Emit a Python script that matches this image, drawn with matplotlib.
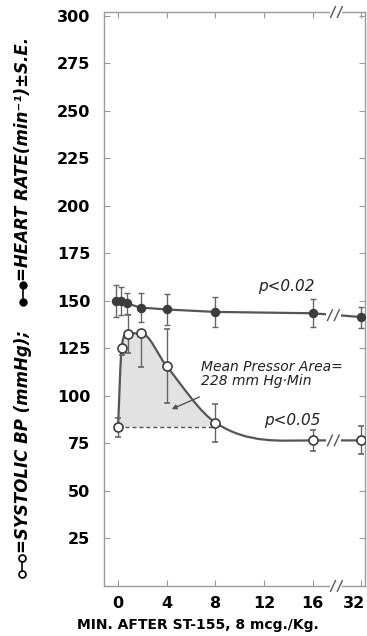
import numpy as np
import matplotlib
matplotlib.use("Agg")
import matplotlib.pyplot as plt
from matplotlib.path import Path
from matplotlib.patches import PathPatch, Rectangle
from matplotlib.lines import Line2D
from matplotlib.transforms import ScaledTranslation

# ---------------------------------------------------
# DATA
# ---------------------------------------------------
bp_time = [0, 0.3, 0.85, 1.9, 4, 8, 16, 32]
bp = [83.5, 125.3, 132.6, 133.0, 115.6, 86.0, 76.6, 76.6]
bp_err_lo = [5, 4, 10, 18, 19.5, 10, 5.7, 7.4]
bp_err_hi = [5, 0, 10, 0, 19.5, 10, 5.7, 7.4]

hr_time = [-0.2, 0.25, 0.7, 1.85, 4, 8, 16, 32]
hr = [150.0, 150.0, 148.7, 146.5, 145.5, 144.2, 143.5, 141.5]
hr_err = [8.5, 7.5, 5.5, 7.4, 8.0, 7.8, 7.4, 5.5]

x_ticks = [0, 4, 8, 12, 16, 32]
y_ticks = [25, 50, 75, 100, 125, 150, 175, 200, 225, 250, 275, 300]

dark = "#3c3c3c"
line_c = "#555555"
spine_c = "#9a9a9a"
W, H = 367, 636


def pos(t):
    # broken time axis: everything after 16 min is squeezed 4x
    t = np.asarray(t, dtype=float)
    return np.where(t <= 16, t, 16 + (t - 16) / 4.0)


def smooth_slopes(x, y):
    # averaged neighbour slopes, flat at turning points, limited
    h = np.diff(x)
    d = np.diff(y) / h
    m = np.zeros(len(x))
    m[0] = d[0]
    m[-1] = d[-1]
    for k in range(1, len(x) - 1):
        if d[k - 1] * d[k] > 0:
            c = (d[k - 1] + d[k]) / 2
            lim = 4 * min(abs(d[k - 1]), abs(d[k]))
            m[k] = np.sign(c) * min(abs(c), lim)
    return m


def smooth_path(x, y):
    m = smooth_slopes(x, y)
    verts = [(x[0], y[0])]
    codes = [Path.MOVETO]
    for i in range(len(x) - 1):
        h = x[i + 1] - x[i]
        verts += [(x[i] + h / 3, y[i] + m[i] * h / 3),
                  (x[i + 1] - h / 3, y[i + 1] - m[i + 1] * h / 3),
                  (x[i + 1], y[i + 1])]
        codes += [Path.CURVE4] * 3
    return verts, codes


def slashes(ax, xc, yc, clip=True):
    for dx in (-0.28, 0.28):
        ax.plot([xc + dx - 0.2, xc + dx + 0.2], [yc - 2.8, yc + 2.8],
                color=line_c, lw=1.0, clip_on=clip, zorder=6)


# ---------------------------------------------------
# FIGURE
# ---------------------------------------------------
fig = plt.figure(figsize=(W / 100, H / 100), dpi=100)
ax = fig.add_axes([104 / W, 1 - 586 / H, (365 - 104) / W, (586 - 12) / H])
ax.set_xlim(-1.15, 20.3)
ax.set_ylim(0, 302)

bx = pos(bp_time)
hx = pos(hr_time)
by = np.array(bp)

# shaded pressor area (curve above the starting level)
verts, codes = smooth_path(bx, by)
fill_path = Path(verts + [(bx[-1], 0), (bx[0], 0), (bx[0], 0)],
                 codes + [Path.LINETO, Path.LINETO, Path.CLOSEPOLY])
area = PathPatch(fill_path, facecolor="#e2e2e2", edgecolor="none", zorder=1)
ax.add_patch(area)
area.set_clip_path(Rectangle((bx[0], bp[0]), 30, 300, transform=ax.transData))

ax.plot([bx[0], bx[5]], [bp[0], bp[0]], ls=(0, (3, 2)), color=line_c,
        lw=1.0, zorder=2)

curve = PathPatch(Path(verts, codes), facecolor="none", edgecolor=line_c,
                  lw=1.6, zorder=3)
ax.add_patch(curve)

# heart rate
ax.plot(hx, hr, color=line_c, lw=1.6, zorder=3)
ax.errorbar(hx, hr, yerr=hr_err, fmt="o", color=dark, ms=5.8, mfc=dark,
            mec=dark, ecolor="#666666", elinewidth=1.0, capsize=2,
            capthick=1.0, zorder=4)

# systolic BP
ax.errorbar(bx, bp, yerr=[bp_err_lo, bp_err_hi], fmt="o", color=dark,
            ms=6.5, mfc="white", mec=dark, mew=1.2, ecolor="#666666",
            elinewidth=1.0, capsize=2, capthick=1.0, zorder=4)

# axis breaks on the lines
for yy in (hr[-2:], bp[-2:]):
    ax.add_patch(Rectangle((17.1, min(yy) - 2.5), 1.2, abs(yy[1] - yy[0]) + 5,
                           facecolor="white", edgecolor="none", zorder=5))
    slashes(ax, 17.7, (yy[0] + yy[1]) / 2)

# axis breaks on top and bottom frame
for yb in (0, 302):
    ax.add_patch(Rectangle((17.45, yb - 2.5), 1.0, 5, facecolor="white",
                           edgecolor="none", zorder=5, clip_on=False))
    slashes(ax, 17.95, yb, clip=False)

# annotations
ax.text(11.5, 157.5, "p<0.02", fontsize=11, style="italic", ha="left",
        va="center", color="#222222")
ax.text(12.0, 87.0, "p<0.05", fontsize=11, style="italic", ha="left",
        va="center", color="#222222")
ax.text(6.8, 111.5, "Mean Pressor Area=\n228 mm Hg·Min", fontsize=10,
        style="italic", ha="left", va="center", color="#222222",
        linespacing=1.0)
ax.annotate("", xy=(4.2, 92.5), xytext=(6.9, 100.0),
            arrowprops=dict(arrowstyle="-|>", color=line_c, lw=1.0,
                            mutation_scale=7))

# ticks and frame
ax.set_xticks(pos(x_ticks))
ax.set_xticklabels([str(t) for t in x_ticks])
ax.set_yticks(y_ticks)
ax.set_yticklabels([str(t) for t in y_ticks])
ax.tick_params(direction="in", length=4, width=0.8, color=spine_c,
               top=True, right=True, labelsize=11.5)
ax.tick_params(axis="y", pad=10)
ax.tick_params(axis="x", pad=7)
for lab in ax.get_xticklabels() + ax.get_yticklabels():
    lab.set_fontweight("bold")
last = ax.get_xticklabels()[-1]
last.set_horizontalalignment("right")
last.set_transform(last.get_transform()
                   + ScaledTranslation(4 / 100, 0, fig.dpi_scale_trans))
for s in ax.spines.values():
    s.set_color(spine_c)
    s.set_linewidth(1.0)

fig.text(198 / W, 1 - 625 / H, "MIN. AFTER ST-155, 8 mcg./Kg.",
         fontsize=10, fontweight="bold", ha="center", va="center")

# y label with symbol keys
fig.add_artist(Line2D([22 / W, 22 / W], [1 - 558 / H, 1 - 574 / H],
                      transform=fig.transFigure, color="black", lw=1.2,
                      marker="o", ms=5, mfc="white", mec="black", mew=1.2))
fig.add_artist(Line2D([23 / W, 23 / W], [1 - 285 / H, 1 - 302 / H],
                      transform=fig.transFigure, color="black", lw=1.2,
                      marker="o", ms=5, mfc="black", mec="black"))
fig.text(23 / W, 1 - 553 / H, "=SYSTOLIC BP (mmHg);", rotation=90,
         ha="center", va="bottom", fontsize=12, fontweight="bold",
         style="italic")
fig.text(23 / W, 1 - 281 / H, "=HEART RATE(min⁻¹)±S.E.", rotation=90,
         ha="center", va="bottom", fontsize=12, fontweight="bold",
         style="italic")

fig.savefig("out.png", dpi=100)
